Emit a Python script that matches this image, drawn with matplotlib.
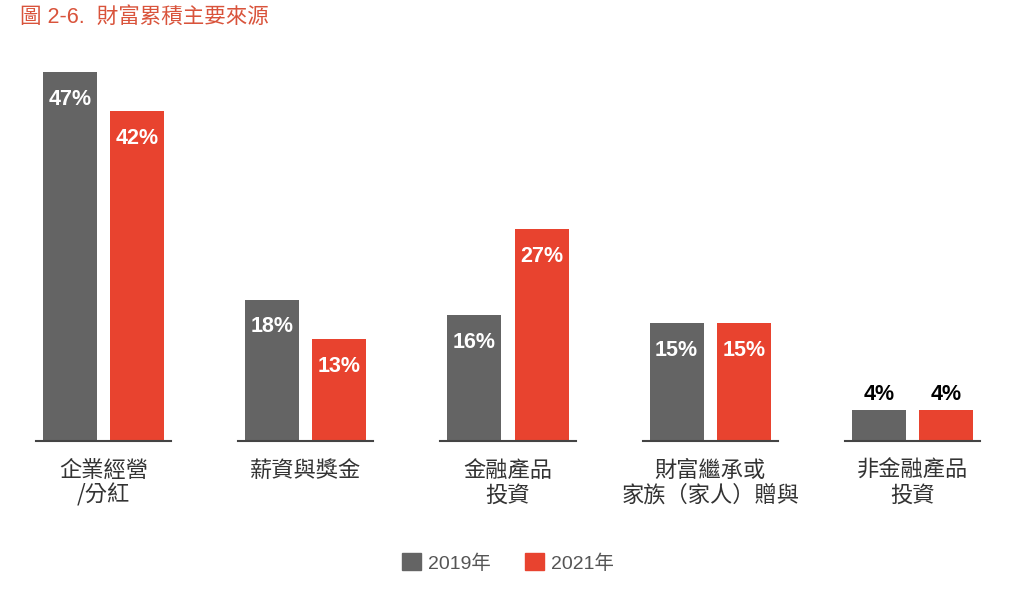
import matplotlib
matplotlib.use("Agg")
import matplotlib.pyplot as plt
import matplotlib.patches as mpatches
import numpy as np

plt.rcParams['font.family'] = ['Noto Sans CJK TC', 'DejaVu Sans']
LATIN = ['Liberation Sans', 'Noto Sans CJK TC']

categories = ["企業經營\n/分紅", "薪資與獎金", "金融產品\n投資", "財富繼承或\n家族（家人）贈與", "非金融產品\n投資"]
series_names = ["2019年", "2021年"]
values_2019 = [47, 18, 16, 15, 4]
values_2021 = [42, 13, 27, 15, 4]

GRAY = "#646464"
RED = "#E8432F"
TITLE_RED = "#D9533B"

W, H = 1024, 602
fig = plt.figure(figsize=(W / 100, H / 100), dpi=100)

base_px = 441
top_px = 60
ax = fig.add_axes([0, (H - base_px) / H, 1, (base_px - top_px) / H])
ax.set_xlim(-103.5 / 202.25, (W - 103.5) / 202.25)
ax.set_ylim(0, (base_px - top_px) / 7.85)
ax.axis("off")

x = np.arange(len(categories))
bw = 0.267
off = 0.166

b1 = ax.bar(x - off, values_2019, bw, color=GRAY)
b2 = ax.bar(x + off, values_2021, bw, color=RED)

for bars in (b1, b2):
    for rect in bars:
        v = rect.get_height()
        cx = rect.get_x() + rect.get_width() / 2
        if v >= 10:
            ax.annotate(f"{v}%", (cx, v), xytext=(0, -12), textcoords="offset points",
                        ha="center", va="top", color="white", fontsize=15.5,
                        fontweight="bold", family=LATIN)
        else:
            ax.annotate(f"{v}%", (cx, v), xytext=(0, 3), textcoords="offset points",
                        ha="center", va="bottom", color="black", fontsize=15.5,
                        fontweight="bold", family=LATIN)

for xi in x:
    ax.plot([xi - 0.334, xi + 0.334], [0, 0], color="#444444", lw=1.5, clip_on=False)
    ax.annotate(categories[xi], (xi, 0), xytext=(0, -13), textcoords="offset points",
                ha="center", va="top", fontsize=16, color="#333333", linespacing=1.08)

fig.text(20 / W, 1 - 17 / H, "圖 2-6.  財富累積主要來源", color=TITLE_RED, fontsize=15.5,
         ha="left", va="center", family=LATIN)

handles = [mpatches.Patch(color=GRAY, label=series_names[0]),
           mpatches.Patch(color=RED, label=series_names[1])]
fig.legend(handles=handles, loc="center", bbox_to_anchor=(508 / W, 1 - 563 / H), ncol=2,
           frameon=False, handlelength=0.95, handleheight=0.95,
           handletextpad=0.35, columnspacing=1.8, labelcolor="#555555",
           prop={'family': LATIN, 'size': 14})

fig.savefig("out.png", dpi=100)
